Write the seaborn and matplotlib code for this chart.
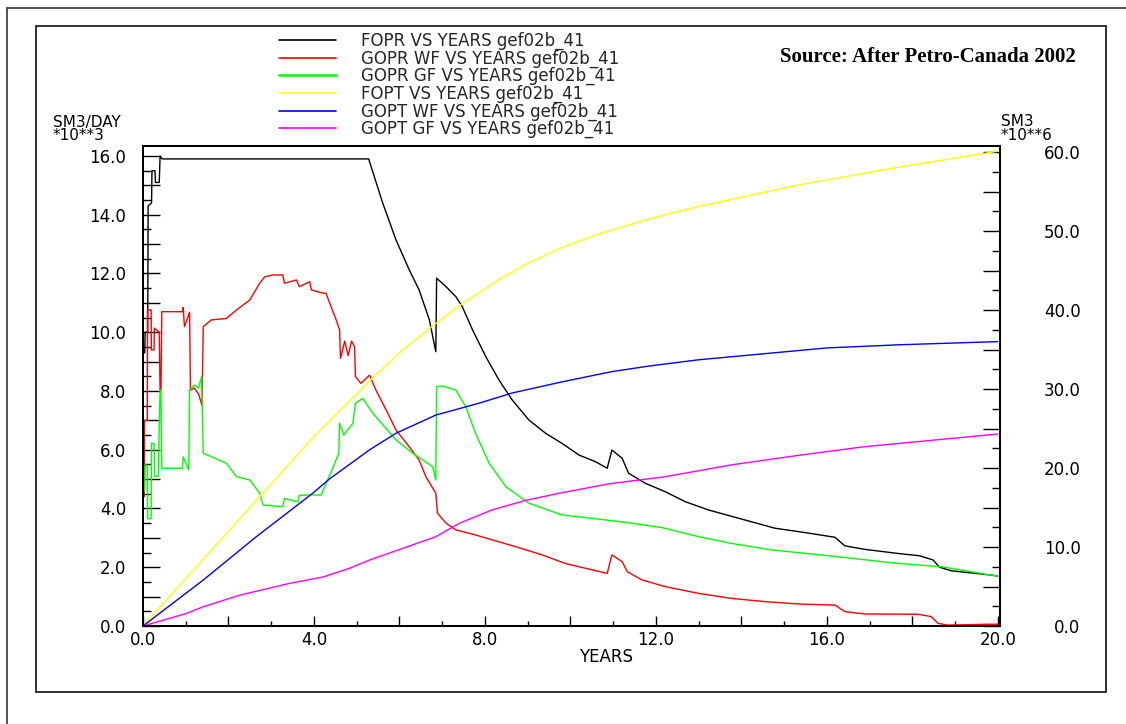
import numpy as np
import pandas as pd
import matplotlib
matplotlib.use("Agg")
import matplotlib.pyplot as plt
from matplotlib.ticker import MultipleLocator, FuncFormatter
from matplotlib.lines import Line2D
from matplotlib.patches import Rectangle
import seaborn as sns

# ---------------- data ----------------
series_labels = [
    "FOPR VS YEARS gef02b_41",
    "GOPR WF VS YEARS gef02b_41",
    "GOPR GF VS YEARS gef02b_41",
    "FOPT VS YEARS gef02b_41",
    "GOPT WF VS YEARS gef02b_41",
    "GOPT GF VS YEARS gef02b_41",
]

# FOPR (SM3/DAY *10**3, left axis)
fopr_t = [0.00, 0.005, 0.04, 0.05, 0.11, 0.12, 0.20, 0.21, 0.28, 0.29, 0.38, 0.40, 0.45,
          5.28, 5.61, 5.92, 6.23, 6.46, 6.70, 6.85, 6.87, 7.09, 7.32, 7.47, 7.71, 8.02,
          8.33, 8.64, 9.03, 9.42, 9.80, 10.20, 10.59, 10.86, 10.97, 11.21, 11.36, 11.75,
          12.22, 12.69, 13.23, 13.93, 14.78, 15.49, 16.19, 16.42, 16.88, 17.66, 18.17,
          18.48, 18.64, 18.91, 19.80, 20.00]
fopr_v = [0.0, 9.3, 9.3, 10.0, 10.0, 14.3, 14.4, 15.5, 15.5, 15.1, 15.1, 16.0, 15.9,
          15.9, 14.39, 13.14, 12.12, 11.44, 10.42, 9.34, 11.84, 11.55, 11.21, 10.87, 10.08, 9.17,
          8.37, 7.69, 7.01, 6.56, 6.22, 5.82, 5.59, 5.37, 5.99, 5.71, 5.20, 4.86,
          4.57, 4.23, 3.95, 3.67, 3.33, 3.18, 3.02, 2.73, 2.61, 2.47, 2.39,
          2.25, 2.00, 1.88, 1.74, 1.70]

# GOPR WF (left axis)
goprwf_t = [0.0, 0.005, 0.03, 0.035, 0.10, 0.105, 0.19, 0.195, 0.26, 0.265,
            0.38, 0.40, 0.42, 0.44, 0.92, 0.94, 0.97, 1.09, 1.11, 1.20,
            1.30, 1.38, 1.41, 1.60, 1.95, 2.19, 2.50, 2.73, 2.85, 3.04,
            3.27, 3.31, 3.59, 3.66, 3.90, 3.94, 4.21, 4.28, 4.40, 4.52,
            4.60, 4.62, 4.72, 4.80, 4.88, 4.95, 4.97, 5.10, 5.30, 5.45,
            5.69, 5.92, 6.23, 6.46, 6.62, 6.85, 6.89, 7.09, 7.32, 7.78,
            8.17, 8.72, 9.34, 9.88, 10.51, 10.86, 10.97, 11.21, 11.33, 11.67,
            12.22, 13.00, 13.77, 14.55, 15.33, 16.19, 16.42, 16.88, 18.13, 18.44,
            18.60, 18.83, 19.76, 20.0]
goprwf_v = [0.0, 4.4, 4.4, 7.0, 7.0, 10.76, 10.76, 9.4, 9.4, 10.14,
            10.0, 8.0, 8.0, 10.7, 10.7, 10.84, 10.19, 10.68, 8.03, 8.1,
            7.9, 7.5, 10.19, 10.42, 10.47, 10.76, 11.1, 11.67, 11.89, 11.95,
            11.95, 11.67, 11.78, 11.55, 11.72, 11.44, 11.33, 11.33, 10.87, 10.42,
            10.08, 9.11, 9.7, 9.2, 9.7, 9.51, 8.49, 8.26, 8.54, 8.03,
            7.35, 6.67, 6.10, 5.65, 5.08, 4.52, 3.84, 3.50, 3.27, 3.10,
            2.93, 2.70, 2.42, 2.13, 1.91, 1.79, 2.42, 2.19, 1.85, 1.57,
            1.34, 1.11, 0.94, 0.83, 0.75, 0.71, 0.49, 0.41, 0.40, 0.32,
            0.09, 0.03, 0.06, 0.06]

# GOPR GF (left axis)
goprgf_t = [0.0, 0.005, 0.04, 0.05, 0.10, 0.11, 0.19, 0.20, 0.26, 0.27,
            0.36, 0.37, 0.40, 0.42, 0.44, 0.92, 0.94, 1.07, 1.09, 1.20,
            1.30, 1.37, 1.41, 1.60, 1.95, 2.19, 2.50, 2.73, 2.81, 3.27,
            3.31, 3.62, 3.66, 3.94, 4.17, 4.25, 4.44, 4.58, 4.60, 4.70,
            4.80, 4.91, 4.97, 5.14, 5.38, 5.92, 6.31, 6.78, 6.85, 6.87,
            7.00, 7.32, 7.55, 7.78, 8.10, 8.49, 9.03, 9.80, 10.59, 11.44,
            12.14, 13.00, 13.77, 14.71, 16.11, 17.66, 18.67, 19.80, 20.0]
goprgf_v = [0.0, 4.5, 4.7, 5.48, 5.48, 3.65, 3.65, 6.23, 6.2, 5.1,
            5.1, 6.1, 8.03, 8.03, 5.37, 5.37, 5.76, 5.31, 8.03, 8.2,
            8.1, 8.49, 5.88, 5.76, 5.54, 5.08, 4.97, 4.52, 4.12, 4.06,
            4.34, 4.23, 4.45, 4.46, 4.46, 4.74, 5.37, 5.88, 6.90, 6.5,
            6.7, 6.90, 7.58, 7.75, 7.24, 6.33, 5.88, 5.42, 4.97, 8.15,
            8.17, 8.03, 7.47, 6.56, 5.54, 4.74, 4.18, 3.78, 3.65, 3.50,
            3.35, 3.04, 2.81, 2.59, 2.38, 2.13, 2.02, 1.74, 1.70]

# FOPT (SM3 *10**6, right axis)
fopt_t = [0.0, 2.0, 4.0, 5.30, 6.0, 6.78, 7.47, 8.25, 9.03, 9.80, 10.59, 11.83,
          13.0, 15.3, 17.7, 20.0]
fopt_v = [0.0, 12.0, 24.0, 31.0, 34.6, 38.0, 40.8, 43.6, 46.0, 47.9, 49.5, 51.5,
          53.1, 55.8, 58.1, 60.1]

# GOPT WF (right axis)
goptwf_t = [0.0, 1.41, 2.65, 3.97, 4.36, 5.30, 5.92, 6.85, 7.86, 8.64, 9.80, 10.97,
            11.83, 13.0, 16.0, 17.7, 20.0]
goptwf_v = [0.0, 5.82, 11.3, 16.8, 18.6, 22.3, 24.4, 26.7, 28.2, 29.5, 30.9, 32.2,
            32.9, 33.7, 35.2, 35.6, 36.0]

# GOPT GF (right axis)
goptgf_t = [0.0, 1.02, 1.41, 2.26, 3.43, 4.21, 4.83, 5.30, 6.85, 7.40, 8.17, 8.95,
            9.73, 10.90, 12.22, 13.77, 15.33, 16.88, 18.44, 19.80, 20.0]
goptgf_v = [0.0, 1.6, 2.44, 3.9, 5.4, 6.2, 7.3, 8.35, 11.3, 13.0, 14.7, 15.9,
            16.8, 18.0, 18.9, 20.4, 21.6, 22.7, 23.5, 24.2, 24.3]

series_colors = ["#000000", "#ff0000", "#00ff00", "#ffff00", "#0000ff", "#ff00ff"]

left_ticks_every = 1.0
x_labels_every = 4

# ---------------- figure ----------------
sns.set_theme(style="white")
plt.rcParams["font.family"] = ["DejaVu Sans"]

W, H = 1126, 724
fig = plt.figure(figsize=(W / 100, H / 100), dpi=100)
fig.patch.set_facecolor("white")


def fx(px):
    return px / W


def fy(py):
    return 1 - py / H


ax = fig.add_axes([fx(143), fy(626), fx(1000) - fx(143), fy(146) - fy(626)])
ax2 = ax.twinx()
ax.set_facecolor("white")

left_sets = [(fopr_t, fopr_v), (goprwf_t, goprwf_v), (goprgf_t, goprgf_v)]
right_sets = [(fopt_t, fopt_v), (goptwf_t, goptwf_v), (goptgf_t, goptgf_v)]

for i, (t, v) in enumerate(left_sets):
    df = pd.DataFrame({"YEARS": t, "value": v})
    sns.lineplot(data=df, x="YEARS", y="value", ax=ax, color=series_colors[i],
                 lw=1.0, estimator=None, sort=False, legend=False)
for j, (t, v) in enumerate(right_sets):
    df = pd.DataFrame({"YEARS": t, "value": v})
    sns.lineplot(data=df, x="YEARS", y="value", ax=ax2, color=series_colors[3 + j],
                 lw=1.0, estimator=None, sort=False, legend=False)

ax.set_xlim(0, 20.05)
ax.set_ylim(0, 16.34)
ax2.set_ylim(0, 60.76)
ax.set_ylabel("")
ax2.set_ylabel("")

# ticks
ax.xaxis.set_major_locator(MultipleLocator(2))
ax.xaxis.set_minor_locator(MultipleLocator(1))
ax.xaxis.set_major_formatter(FuncFormatter(
    lambda v, p: f"{v:.1f}" if abs(v / x_labels_every - round(v / x_labels_every)) < 1e-6 else ""))
ax.yaxis.set_major_locator(MultipleLocator(left_ticks_every))
ax.yaxis.set_minor_locator(MultipleLocator(0.5))
ax.yaxis.set_major_formatter(FuncFormatter(
    lambda v, p: f"{v:.1f}" if abs(v / 2 - round(v / 2)) < 1e-6 else ""))
ax2.yaxis.set_major_locator(MultipleLocator(5))
ax2.yaxis.set_minor_locator(MultipleLocator(2.5))
ax2.yaxis.set_major_formatter(FuncFormatter(
    lambda v, p: f"{v:.1f}" if abs(v / 10 - round(v / 10)) < 1e-6 else ""))

ax.tick_params(axis="x", which="major", direction="in", length=7, width=1.0,
               color="black", labelsize=12, pad=3.5, top=False, bottom=True, labelcolor="black")
ax.tick_params(axis="x", which="minor", direction="in", length=3.5, width=1.0,
               color="black", top=False, bottom=True)
ax.tick_params(axis="y", which="major", direction="in", length=12, width=1.0,
               color="black", labelsize=12, pad=12, left=True, right=False, labelcolor="black")
ax.tick_params(axis="y", which="minor", direction="in", length=6, width=1.0,
               color="black", left=True, right=False)
ax2.tick_params(axis="y", which="major", direction="in", length=12, width=1.0,
                color="black", labelsize=12, pad=58, right=True, left=False, labelcolor="black")
ax2.tick_params(axis="y", which="minor", direction="in", length=6, width=1.0,
                color="black", right=True, left=False)
for lab in ax2.get_yticklabels():
    lab.set_horizontalalignment("right")

for a in (ax, ax2):
    for s in a.spines.values():
        s.set_color("black")
        s.set_linewidth(1.4)

ax.set_xlabel("YEARS", fontsize=12, color="black", va="top")
ax.xaxis.set_label_coords((606 - 143) / 857, (626 - 648) / 480)

# unit labels
fig.text(fx(53), fy(122), "SM3/DAY", fontsize=11, ha="left", va="center", color="black")
fig.text(fx(53), fy(135.5), "*10**3", fontsize=11, ha="left", va="center", color="black")
fig.text(fx(1001), fy(122), "SM3", fontsize=11, ha="left", va="center", color="black")
fig.text(fx(1001), fy(135.5), "*10**6", fontsize=11, ha="left", va="center", color="black")

# source note
fig.text(fx(780), fy(57), "Source: After Petro-Canada 2002", fontsize=15,
         fontweight="bold", family=["Liberation Serif", "DejaVu Serif"],
         ha="left", va="center", color="black")

# legend
handles = [Line2D([], [], color=c, lw=1.2 if c != "#00ff00" else 1.8) for c in series_colors]
fs_px = 12 * 100 / 72
fig.legend(handles, series_labels, loc="upper left",
           bbox_to_anchor=(fx(279), fy(32)), bbox_transform=fig.transFigure,
           frameon=False, fontsize=12, handlelength=57 / fs_px,
           handletextpad=25 / fs_px, labelspacing=-0.04, borderpad=0,
           borderaxespad=0)

# frames
fig.add_artist(Rectangle((fx(36), fy(692)), fx(1106) - fx(36), fy(26) - fy(692),
                         transform=fig.transFigure, fill=False, lw=1.3, ec="#222222"))
fig.add_artist(Line2D([fx(7), fx(7)], [0, fy(8)], transform=fig.transFigure,
                      lw=1.3, color="#444444"))
fig.add_artist(Line2D([fx(7), 1], [fy(8), fy(8)], transform=fig.transFigure,
                      lw=1.3, color="#444444"))

fig.savefig("out.png", dpi=100, facecolor="white")
